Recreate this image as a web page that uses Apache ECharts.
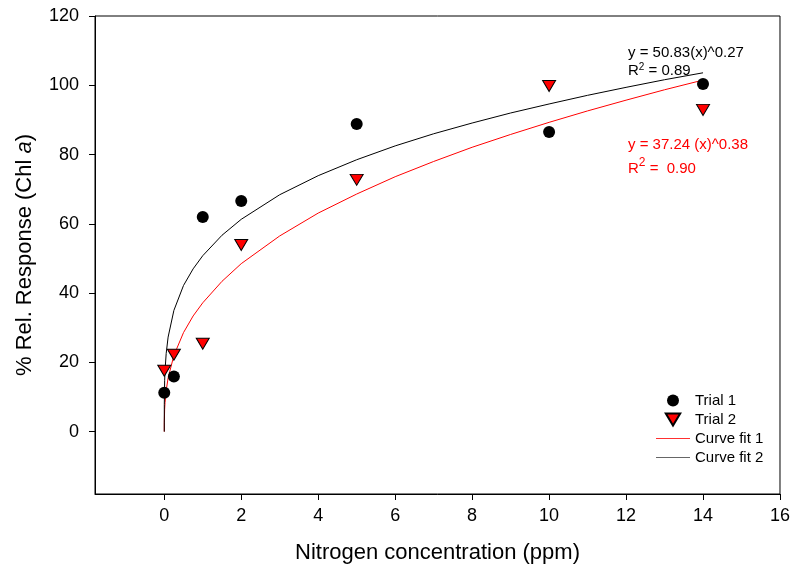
<!DOCTYPE html>
<html>
<head>
<meta charset="utf-8">
<title>Nitrogen response</title>
<script src="https://cdn.jsdelivr.net/npm/echarts@6/dist/echarts.min.js"></script>
<style>
  body { margin: 0; background: #fff; }
  #main { width: 793px; height: 571px; }
</style>
</head>
<body>
<div id="main"></div>
<script>
// measured points
var trial1 = [[0, 11.2], [0.25, 15.9], [1, 62.0], [2, 66.6], [5, 88.8], [10, 86.5], [14, 100.4]];
var trial2 = [[0, 17.6], [0.25, 22.2], [1, 25.4], [2, 53.9], [5, 72.7], [10, 99.8], [14, 92.9]];

// fitted curves, values
var fitX   = [0, 0.001, 0.01, 0.02, 0.05, 0.1, 0.25, 0.5, 0.75, 1, 1.5, 2, 3, 4, 5, 6, 7, 8, 9, 10, 11, 12, 13, 14];
var fit1Y  = [0, 2.7, 6.5, 8.4, 11.9, 15.5, 22.0, 28.6, 33.4, 37.2, 43.4, 48.5, 56.5, 63.1, 68.6, 73.6, 78.0, 82.1, 85.8, 89.3, 92.6, 95.7, 98.7, 101.5];
var fit2Y  = [0, 7.9, 14.7, 17.7, 22.6, 27.3, 35.0, 42.2, 47.0, 50.8, 56.7, 61.3, 68.4, 73.9, 78.5, 82.5, 86.0, 89.1, 92.0, 94.6, 97.1, 99.4, 101.6, 103.6];

var xTicks = [0, 2, 4, 6, 8, 10, 12, 14, 16];
var yTicks = [0, 20, 40, 60, 80, 100, 120];

function pairs(xs, ys) {
  return xs.map(function (x, i) { return [x, ys[i]]; });
}

var chart = echarts.init(document.getElementById('main'));
var font = 'Liberation Sans, Arial, sans-serif';
var triDown = 'path://M0,0 L12,0 L6,10 Z';
var lineIcon = 'path://M0,0 L40,0 L40,1 L0,1 Z';

chart.setOption({
  animation: false,
  textStyle: { fontFamily: font },
  grid: {
    left: 95, right: 12, top: 16, bottom: 77,
    show: true, borderColor: '#000', borderWidth: 1
  },
  xAxis: {
    type: 'value', min: -1.8, max: 16,
    name: 'Nitrogen concentration (ppm)',
    nameLocation: 'middle', nameGap: 48,
    nameTextStyle: { fontSize: 22, color: '#000', fontFamily: font },
    axisLine: { onZero: false, lineStyle: { color: '#000', width: 1 } },
    axisTick: { show: true, length: 6, customValues: xTicks, lineStyle: { color: '#000' } },
    axisLabel: { customValues: xTicks, fontSize: 18, color: '#000', margin: 13, fontFamily: font },
    splitLine: { show: false }
  },
  yAxis: {
    type: 'value', min: -18, max: 120,
    name: '% Rel. Response (Chl {i|a})',
    nameLocation: 'middle', nameGap: 59,
    nameTextStyle: {
      fontSize: 22, color: '#000', fontFamily: font,
      rich: { i: { fontStyle: 'italic', fontSize: 22, color: '#000', fontFamily: font } }
    },
    axisLine: { show: true, onZero: false, lineStyle: { color: '#000', width: 1 } },
    axisTick: { show: true, length: 6, customValues: yTicks, lineStyle: { color: '#000' } },
    axisLabel: { customValues: yTicks, fontSize: 18, color: '#000', margin: 16, fontFamily: font },
    splitLine: { show: false }
  },
  legend: {
    orient: 'vertical',
    left: 651, top: 388,
    itemGap: 4, itemWidth: 34, itemHeight: 12,
    textStyle: { fontSize: 15, color: '#000', fontFamily: font },
    data: [
      { name: 'Trial 1', icon: 'circle' },
      { name: 'Trial 2', icon: triDown },
      { name: 'Curve fit 1', icon: lineIcon,
        itemStyle: { color: '#ff3030', borderColor: '#ff3030', borderWidth: 0 },
        lineStyle: { color: '#ff3030' } },
      { name: 'Curve fit 2', icon: lineIcon,
        itemStyle: { color: '#666', borderColor: '#666', borderWidth: 0 },
        lineStyle: { color: '#666' } }
    ]
  },
  series: [
    {
      name: 'Curve fit 1', type: 'line', data: pairs(fitX, fit1Y),
      showSymbol: false, symbol: 'none',
      lineStyle: { color: '#ff0000', width: 1 }, itemStyle: { color: '#ff0000' }, z: 2
    },
    {
      name: 'Curve fit 2', type: 'line', data: pairs(fitX, fit2Y),
      showSymbol: false, symbol: 'none',
      lineStyle: { color: '#000', width: 1 }, itemStyle: { color: '#666' }, z: 2
    },
    {
      name: 'Trial 1', type: 'scatter', data: trial1,
      symbol: 'circle', symbolSize: 12,
      itemStyle: { color: '#000', opacity: 1 }, z: 3
    },
    {
      name: 'Trial 2', type: 'scatter', data: trial2,
      symbol: triDown, symbolSize: [13, 11],
      itemStyle: { color: '#ff0000', borderColor: '#000', borderWidth: 1, opacity: 1 }, z: 3
    }
  ],
  graphic: [
    {
      type: 'text', left: 628, top: 44,
      style: {
        text: 'y = 50.83(x)^0.27\nR{s|2} = 0.89',
        font: '15px ' + font, fill: '#000', lineHeight: 18,
        rich: { s: { fontSize: 10, verticalAlign: 'top', fill: '#000', padding: [0, 0, 6, 0] } }
      }
    },
    {
      type: 'text', left: 628, top: 133,
      style: {
        text: 'y = 37.24 (x)^0.38\nR{s|2} =  0.90',
        font: '15px ' + font, fill: '#ff0000', lineHeight: 24,
        rich: { s: { fontSize: 12, verticalAlign: 'top', fill: '#ff0000', padding: [0, 0, 8, 0] } }
      }
    }
  ]
});
</script>
</body>
</html>
